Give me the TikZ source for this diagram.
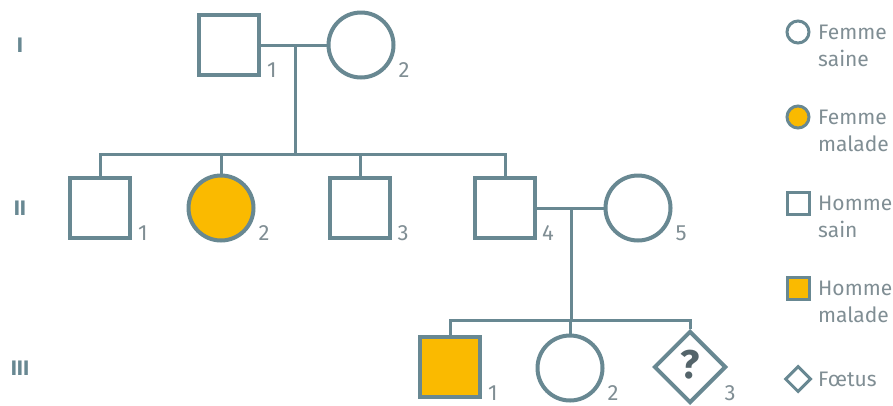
\documentclass[tikz,border=0pt]{standalone}
\usepackage{fontspec}
\setmainfont{Fira Sans}
\usetikzlibrary{shapes.geometric,positioning}
\definecolor{trait}{RGB}{104,136,146}
\definecolor{malade}{RGB}{250,186,0}
\definecolor{chiffre}{RGB}{128,142,148}
\definecolor{question}{RGB}{84,100,106}
\begin{document}
\begin{tikzpicture}[x=1pt,y=-1pt,
    homme/.style={rectangle,draw=trait,fill=white,line width=4pt,minimum size=60pt,inner sep=0pt},
    femme/.style={circle,draw=trait,fill=white,line width=4pt,minimum size=65pt,inner sep=0pt},
    foetus/.style={diamond,draw=trait,fill=white,line width=4pt,minimum size=72pt,inner sep=0pt},
    atteint/.style={fill=malade},
    petit/.style={line width=3pt,minimum size=22pt},
    lien/.style={draw=trait,line width=3pt},
    num/.style={text=chiffre,font=\fontsize{22}{22}\selectfont,inner sep=0pt},
    gen/.style={text=trait,font=\bfseries\fontsize{21}{21}\selectfont,inner sep=0pt},
    legtexte/.style={text=chiffre,font=\fontsize{21}{27}\selectfont,align=left,anchor=north west,inner sep=0pt}]
  \useasboundingbox[fill=white] (0,0) rectangle (893,405);
  % generations
  \node[gen] (g1) at (20,45) {I};
  \node[gen] (g2) at (20,208) {II};
  \node[gen] (g3) at (20,368) {III};
  % individus
  \node[homme] (i1) at (229,45) {};
  \node[femme] (i2) at (361,45) {};
  \node[homme] (ii1) at (100,208) {};
  \node[femme,atteint] (ii2) at (221,208) {};
  \node[homme] (ii3) at (360,208) {};
  \node[homme] (ii4) at (505,208) {};
  \node[femme] (ii5) at (638,208) {};
  \node[homme,atteint] (iii1) at (450,367) {};
  \node[femme] (iii2) at (570,368) {};
  \node[foetus,text=question,font=\bfseries\fontsize{40}{40}\selectfont] (iii3) at (690,367) {\raisebox{5pt}{?}};
  % numeros
  \node[num] (i1n) at ([xshift=43pt,yshift=-25pt]i1.center) {1};
  \node[num] (i2n) at ([xshift=43pt,yshift=-25pt]i2.center) {2};
  \node[num] (ii1n) at ([xshift=43pt,yshift=-25pt]ii1.center) {1};
  \node[num] (ii2n) at ([xshift=43pt,yshift=-25pt]ii2.center) {2};
  \node[num] (ii3n) at ([xshift=43pt,yshift=-25pt]ii3.center) {3};
  \node[num] (ii4n) at ([xshift=43pt,yshift=-25pt]ii4.center) {4};
  \node[num] (ii5n) at ([xshift=43pt,yshift=-25pt]ii5.center) {5};
  \node[num] (iii1n) at ([xshift=43pt,yshift=-26pt]iii1.center) {1};
  \node[num] (iii2n) at ([xshift=43pt,yshift=-25pt]iii2.center) {2};
  \node[num] (iii3n) at ([xshift=40pt,yshift=-26pt]iii3.center) {3};
  % liens
  \coordinate (m1) at (295,45);
  \coordinate (f2) at (295,154);
  \coordinate (m2) at (571,208);
  \coordinate (f3) at (571,320);
  \draw[lien] (i1) -- (i2);
  \draw[lien] (m1) -- (f2);
  \draw[lien] (ii1.north) -- (ii1.north |- f2) -- (ii4.north |- f2) -- (ii4.north);
  \draw[lien] (ii2.north) -- (ii2.north |- f2);
  \draw[lien] (ii3.north) -- (ii3.north |- f2);
  \draw[lien] (ii4) -- (ii5);
  \draw[lien] (m2) -- (f3);
  \draw[lien] (iii1.north) -- (iii1.north |- f3) -- (iii3.north |- f3) -- (iii3.north);
  \draw[lien] (iii2.north) -- (iii2.north |- f3);
  % legende
  \node[femme,petit] (l1) at (798,32) {};
  \node[femme,petit,atteint] (l2) at (798,117) {};
  \node[homme,petit] (l3) at (798,203) {};
  \node[homme,petit,atteint] (l4) at (798,288) {};
  \node[foetus,petit,minimum size=26pt] (l5) at (798,379) {};
  \node[legtexte] (t1) at (818,25) {Femme\\saine};
  \node[legtexte] (t2) at (818,110) {Femme\\malade};
  \node[legtexte] (t3) at (818,196) {Homme\\sain};
  \node[legtexte] (t4) at (818,281) {Homme\\malade};
  \node[legtexte] (t5) at (818,372) {Fœtus};
\end{tikzpicture}
\end{document}
